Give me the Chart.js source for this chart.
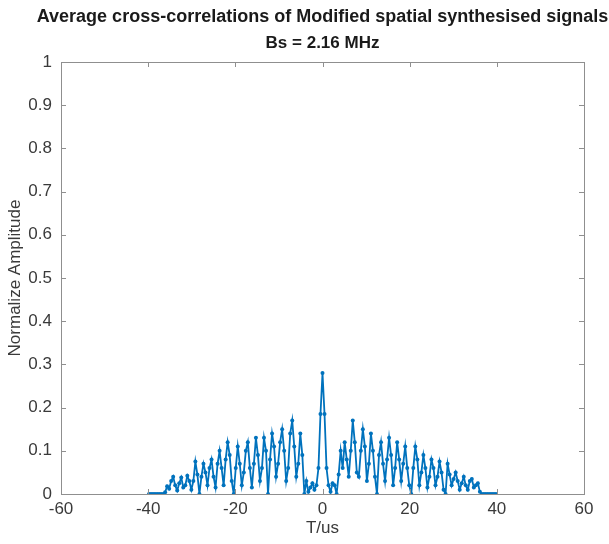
<!DOCTYPE html>
<html>
<head>
<meta charset="utf-8">
<script src="https://cdn.jsdelivr.net/npm/chart.js@4"></script>
<style>
  html, body { margin: 0; padding: 0; background: #fff; }
  #wrap { width: 609px; height: 544px; position: relative; }
</style>
</head>
<body>
<div id="wrap"><canvas id="xcorr"></canvas></div>
<script>
// sample rate of the synthesised signal (MHz) -> lag step is 1/Bs us
const BS = 2.16;

// averaged cross-correlation, lags -86..-1
const leftAmp = [
    0, 0, 0, 0, 0, 0, 0, 0, 0.004, 0.018,
    0.012, 0.03, 0.04, 0.02, 0.008, 0.025, 0.038, 0.015, 0.02, 0.042,
    0.03, 0.01, 0.03, 0.075, 0.045, 0.0, 0.04, 0.07, 0.05, 0.02,
    0.06, 0.08, 0.04, 0.015, 0.07, 0.1, 0.06, 0.02, 0.08, 0.12,
    0.09, 0.03, 0.0, 0.06, 0.11, 0.07, 0.02, 0.05, 0.1, 0.12,
    0.06, 0.015, 0.07, 0.13, 0.09, 0.03, 0.06, 0.13, 0.1, 0.0,
    0.08, 0.14, 0.11, 0.04, 0.07, 0.12, 0.15, 0.1, 0.03, 0.06,
    0.14, 0.17, 0.11, 0.04, 0.07, 0.14, 0.09, 0.0, 0.03, 0.005,
    0.015, 0.025, 0.01, 0.02, 0.06, 0.185
];
// zero lag
const centreAmp = [0.28];
// lags 1..86
const rightAmp = [
    0.185, 0.06, 0.02, 0.005, 0.025, 0.02, 0.0, 0.045, 0.1, 0.06,
    0.12, 0.08, 0.04, 0.1, 0.17, 0.12, 0.05, 0.04, 0.1, 0.15,
    0.11, 0.03, 0.07, 0.14, 0.1, 0.04, 0.0, 0.09, 0.12, 0.07,
    0.03, 0.08, 0.13, 0.09, 0.02, 0.06, 0.12, 0.08, 0.03, 0.07,
    0.11, 0.06, 0.02, 0.0, 0.06, 0.11, 0.08, 0.02, 0.05, 0.09,
    0.06, 0.015, 0.04, 0.08, 0.06, 0.02, 0.04, 0.075, 0.05, 0.01,
    0.0, 0.07, 0.045, 0.02, 0.035, 0.05, 0.03, 0.01, 0.025, 0.04,
    0.02, 0.01, 0.03, 0.035, 0.015, 0.02, 0.025, 0.005, 0, 0,
    0, 0, 0, 0, 0, 0
];

const xTicks = [-60, -40, -20, 0, 20, 40, 60];
const yTicks = [0, 0.1, 0.2, 0.3, 0.4, 0.5, 0.6, 0.7, 0.8, 0.9, 1];

const titleLines = ['Average cross-correlations of Modified spatial synthesised signals', 'Bs = 2.16 MHz'];
const xLabel = 'T/us';
const yLabel = 'Normalize Amplitude';

const amps = leftAmp.concat(centreAmp, rightAmp);
const half = leftAmp.length;
const points = amps.map((v, i) => ({ x: (i - half) / BS, y: v }));

const LINE = '#0072BD';
const AXIS = '#3a3a3a';
const FONT = '"Liberation Sans", Arial, sans-serif';

// box, inward ticks and titles drawn MATLAB-style
const boxPlugin = {
    id: 'boxPlugin',
    afterDraw(chart) {
        const { ctx, chartArea: a, scales } = chart;
        ctx.save();
        ctx.strokeStyle = '#8f8f8f';
        ctx.lineWidth = 1;
        ctx.strokeRect(Math.round(a.left) + 0.5, Math.round(a.top) + 0.5,
            Math.round(a.right - a.left), Math.round(a.bottom - a.top));

        ctx.beginPath();
        xTicks.forEach(t => {
            const px = Math.round(scales.x.getPixelForValue(t)) + 0.5;
            ctx.moveTo(px, a.bottom); ctx.lineTo(px, a.bottom - 5);
            ctx.moveTo(px, a.top); ctx.lineTo(px, a.top + 5);
        });
        yTicks.forEach(t => {
            const py = Math.round(scales.y.getPixelForValue(t)) + 0.5;
            ctx.moveTo(a.left, py); ctx.lineTo(a.left + 5, py);
            ctx.moveTo(a.right, py); ctx.lineTo(a.right - 5, py);
        });
        ctx.stroke();

        const cx = (a.left + a.right) / 2;
        ctx.fillStyle = '#1a1a1a';
        ctx.textAlign = 'center';
        ctx.textBaseline = 'middle';
        ctx.font = 'bold 18px ' + FONT;
        ctx.fillText(titleLines[0], cx, 17);
        ctx.font = 'bold 17px ' + FONT;
        ctx.fillText(titleLines[1], cx, 43);

        ctx.fillStyle = AXIS;
        ctx.font = '17px ' + FONT;
        ctx.fillText(xLabel, cx, 528);
        ctx.translate(15, (a.top + a.bottom) / 2);
        ctx.rotate(-Math.PI / 2);
        ctx.fillText(yLabel, 0, 0);
        ctx.restore();
    }
};

new Chart(document.getElementById('xcorr'), {
    type: 'line',
    data: {
        datasets: [{
            data: points,
            borderColor: LINE,
            backgroundColor: LINE,
            borderWidth: 1.8,
            pointRadius: 2,
            pointHoverRadius: 2,
            pointBorderWidth: 0,
            tension: 0,
            fill: false
        }]
    },
    options: {
        responsive: true,
        maintainAspectRatio: false,
        animation: false,
        events: [],
        layout: { padding: { left: 0, right: 25, top: 62, bottom: 0 } },
        plugins: { legend: { display: false }, tooltip: { enabled: false }, title: { display: false } },
        scales: {
            x: {
                type: 'linear', min: -60, max: 60,
                afterFit: s => { s.height = 50; },
                afterBuildTicks: s => { s.ticks = xTicks.map(v => ({ value: v })); },
                grid: { display: false, drawTicks: false, tickLength: 0 },
                border: { display: false },
                ticks: { color: AXIS, font: { family: FONT, size: 17 }, padding: 5, maxRotation: 0 }
            },
            y: {
                min: 0, max: 1,
                afterFit: s => { s.width = 61; },
                afterBuildTicks: s => { s.ticks = yTicks.map(v => ({ value: v })); },
                grid: { display: false, drawTicks: false, tickLength: 0 },
                border: { display: false },
                ticks: { color: AXIS, font: { family: FONT, size: 17 }, padding: 9,
                    callback: v => String(Math.round(v * 10) / 10) }
            }
        }
    },
    plugins: [boxPlugin]
});
</script>
</body>
</html>
